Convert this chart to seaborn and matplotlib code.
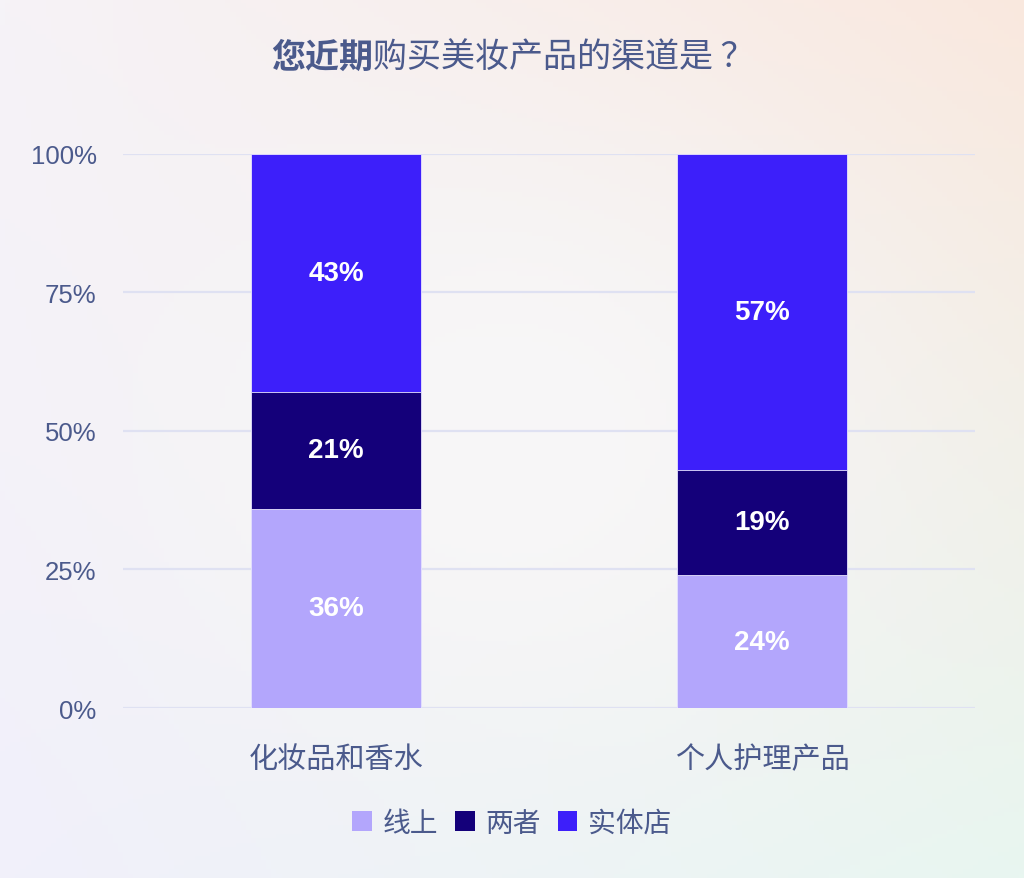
import numpy as np
import pandas as pd
import seaborn as sns
import matplotlib.pyplot as plt
from matplotlib.patches import Patch

# 数据
categories = ["化妆品和香水", "个人护理产品"]
online = [36, 24]
both = [21, 19]
store = [43, 57]
series_names = ["线上", "两者", "实体店"]
colors = ["#b3a6fc", "#14007a", "#3d1ffa"]
yticks = [0, 25, 50, 75, 100]
ytick_labels = ["0%", "25%", "50%", "75%", "100%"]

df = pd.DataFrame({"category": categories, "线上": online, "两者": both, "实体店": store})
df["c1"] = df["线上"]
df["c2"] = df["线上"] + df["两者"]
df["c3"] = df["c2"] + df["实体店"]

sns.set_theme(style="white")
plt.rcParams["font.family"] = ["Noto Sans CJK SC", "DejaVu Sans"]
text_color = "#4b5a8c"

fig = plt.figure(figsize=(10.24, 8.79), dpi=100)

# 背景渐变
bg = fig.add_axes([0, 0, 1, 1], zorder=-10)
h, w = 200, 200
yy, xx = np.mgrid[0:1:h * 1j, 0:1:w * 1j]
tl = np.array([246, 243, 247]) / 255
tr = np.array([250, 232, 222]) / 255
bl = np.array([241, 240, 251]) / 255
br = np.array([232, 246, 240]) / 255
img = (tl * ((1 - xx) * (1 - yy))[..., None] + tr * (xx * (1 - yy))[..., None]
       + bl * ((1 - xx) * yy)[..., None] + br * (xx * yy)[..., None])
center = np.array([248, 247, 248]) / 255
wgt = np.exp(-(((xx - 0.5) ** 2 + (yy - 0.5) ** 2) / 0.12))[..., None]
img = img * (1 - wgt) + center * wgt
bg.imshow(img, aspect="auto", extent=[0, 1, 0, 1], origin="upper")
bg.axis("off")

ax = fig.add_axes([0.1201, 0.1934, 0.832, 0.6303])
ax.set_facecolor("none")

for col, c in zip(["c3", "c2", "c1"], colors[::-1]):
    sns.barplot(data=df, x="category", y=col, color=c, width=0.4,
                saturation=1, ax=ax, zorder=3, linewidth=0.6, edgecolor="#e8e4ff")

# 数值标签
for i, row in df.iterrows():
    mids = [row["c1"] / 2, (row["c1"] + row["c2"]) / 2, (row["c2"] + row["c3"]) / 2]
    vals = [row["线上"], row["两者"], row["实体店"]]
    for m, v in zip(mids, vals):
        ax.text(i, m, f"{v}%", ha="center", va="center", color="white",
                fontsize=20, fontweight="bold", family=["Liberation Sans", "DejaVu Sans"], zorder=5)

ax.set_xlim(-0.5, 1.5)
ax.set_ylim(0, 100)
ax.set_yticks(yticks)
ax.set_yticklabels(ytick_labels)
ax.yaxis.grid(True, color="#dfe1f2", linewidth=1.6, zorder=0)
ax.xaxis.grid(False)
for s in ax.spines.values():
    s.set_visible(False)
ax.tick_params(axis="y", length=0, pad=19, labelsize=18.5, labelcolor=text_color)
ax.tick_params(axis="x", length=0, pad=26, labelsize=21, labelcolor=text_color)
for t in ax.get_yticklabels():
    t.set_family(["Liberation Sans", "DejaVu Sans"])
ax.set_xlabel("")
ax.set_ylabel("")

# 标题（前三字加粗）
t1 = fig.text(0.2646, 0.935, "您近期", fontsize=24.5, fontweight="bold",
              color=text_color, va="center", ha="left")
ax.annotate("购买美妆产品的渠道是 ？", xy=(1, 0), xycoords=t1, va="bottom", ha="left",
            fontsize=24.5, fontweight="medium", color=text_color)

handles = [Patch(facecolor=c, edgecolor="none") for c in colors]
fig.legend(handles, series_names, loc="center", bbox_to_anchor=(0.5, 0.063), ncol=3,
           frameon=False, fontsize=20, labelcolor=text_color, handlelength=0.7,
           handleheight=0.7, handletextpad=0.4, columnspacing=0.6)

fig.savefig("out.png", dpi=100)
